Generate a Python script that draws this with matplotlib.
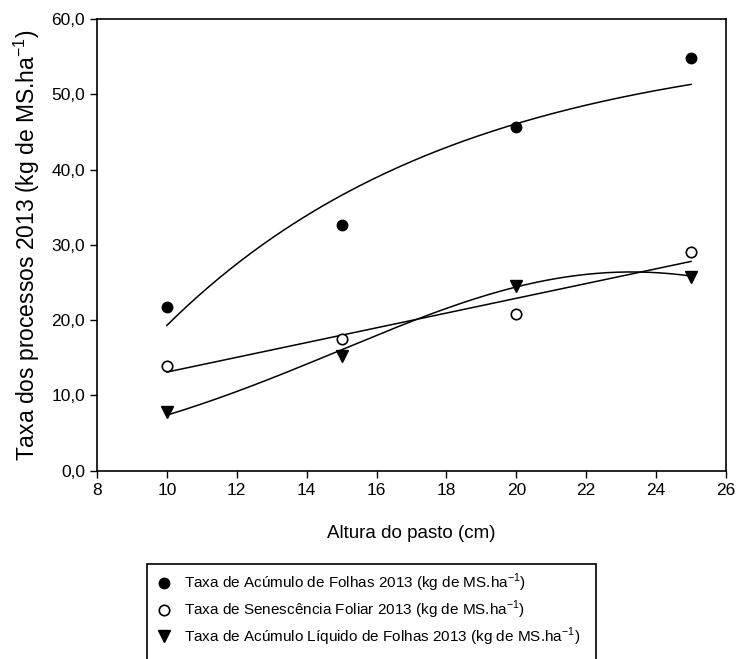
import numpy as np
import matplotlib
matplotlib.use("Agg")
import matplotlib.pyplot as plt
from matplotlib.lines import Line2D
from matplotlib.patches import Rectangle

plt.rcParams['font.family'] = ['Liberation Sans', 'DejaVu Sans']
plt.rcParams['mathtext.fontset'] = 'custom'
plt.rcParams['mathtext.rm'] = 'Liberation Sans'

#%% data
altura = [10, 15, 20, 25]
acumulo = [21.8, 32.6, 45.6, 54.8]       # Taxa de Acumulo de Folhas
senescencia = [13.9, 17.5, 20.8, 29.1]   # Taxa de Senescencia Foliar
liquido = [7.8, 15.3, 24.6, 25.7]        # Taxa de Acumulo Liquido

# regression curves as drawn in the original (coefficients estimated from the figure)
exp_y0, exp_a, exp_b = 19.3, 38.4, 0.1196      # y0 + a*(1-exp(-b*(x-10)))
lin_a, lin_b = 3.3, 0.98                        # a + b*x
gau_a, gau_x0, gau_s = 26.4, 23.3, 8.33         # a*exp(-0.5*((x-x0)/s)^2)

x_ticks = [8, 10, 12, 14, 16, 18, 20, 22, 24, 26]
y_ticks = [0, 10, 20, 30, 40, 50, 60]
y_ticklabels = ["0,0", "10,0", "20,0", "30,0", "40,0", "50,0", "60,0"]

labels = ["Taxa de Acúmulo de Folhas 2013 (kg de MS.ha$^{-1}$)",
          "Taxa de Senescência Foliar 2013 (kg de MS.ha$^{-1}$)",
          "Taxa de Acúmulo Líquido de Folhas 2013 (kg de MS.ha$^{-1}$)"]

#%% plot
fig = plt.figure(figsize=(7.37, 6.59), dpi=100)
ax = fig.add_axes([97/737, 1-470.7/659, 629/737, 451.7/659])

xx = np.linspace(altura[0], altura[-1], 200)
ax.plot(xx, exp_y0 + exp_a*(1-np.exp(-exp_b*(xx-10))), 'k-', lw=1.1)
ax.plot(xx, lin_a + lin_b*xx, 'k-', lw=1.1)
ax.plot(xx, gau_a*np.exp(-0.5*((xx-gau_x0)/gau_s)**2), 'k-', lw=1.1)

ax.plot(altura, acumulo, 'o', color='k', ms=7.5, ls='none')
ax.plot(altura, senescencia, 'o', mfc='white', mec='k', mew=1.2, ms=7.5, ls='none')
ax.plot(altura, liquido, 'v', color='k', ms=8, ls='none')

ax.set_xlim(8, 26)
ax.set_ylim(0, 60)
ax.set_xticks(x_ticks)
ax.set_yticks(y_ticks)
ax.set_yticklabels(y_ticklabels)
ax.tick_params(direction='out', length=5, width=1, labelsize=12.5, colors='k')
for s in ax.spines.values():
    s.set_linewidth(1.2)

ax.set_xlabel("Altura do pasto (cm)", fontsize=13.5, labelpad=20)
ax.set_ylabel("Taxa dos processos 2013 (kg de MS.ha$^{-1}$)", fontsize=16.5, labelpad=7)

handles = [Line2D([], [], marker='o', color='k', ls='none', ms=7.5),
           Line2D([], [], marker='o', mfc='white', mec='k', mew=1.2, ls='none', ms=7.5),
           Line2D([], [], marker='v', color='k', ls='none', ms=8)]
leg = fig.legend(handles, labels, loc='upper left',
                 bbox_to_anchor=(150/737, 1-566/659), fontsize=11,
                 frameon=False, handlelength=1.0, handletextpad=0.85,
                 borderpad=0.4, labelspacing=0.28, borderaxespad=0)
# legend box runs off the bottom of the picture, as in the original
fig.patches.append(Rectangle((147/737, -0.02), (596-147)/737, 0.02 + (659-564)/659,
                             transform=fig.transFigure, fill=False,
                             edgecolor='k', linewidth=1.2))

fig.savefig("out.png", dpi=100)
